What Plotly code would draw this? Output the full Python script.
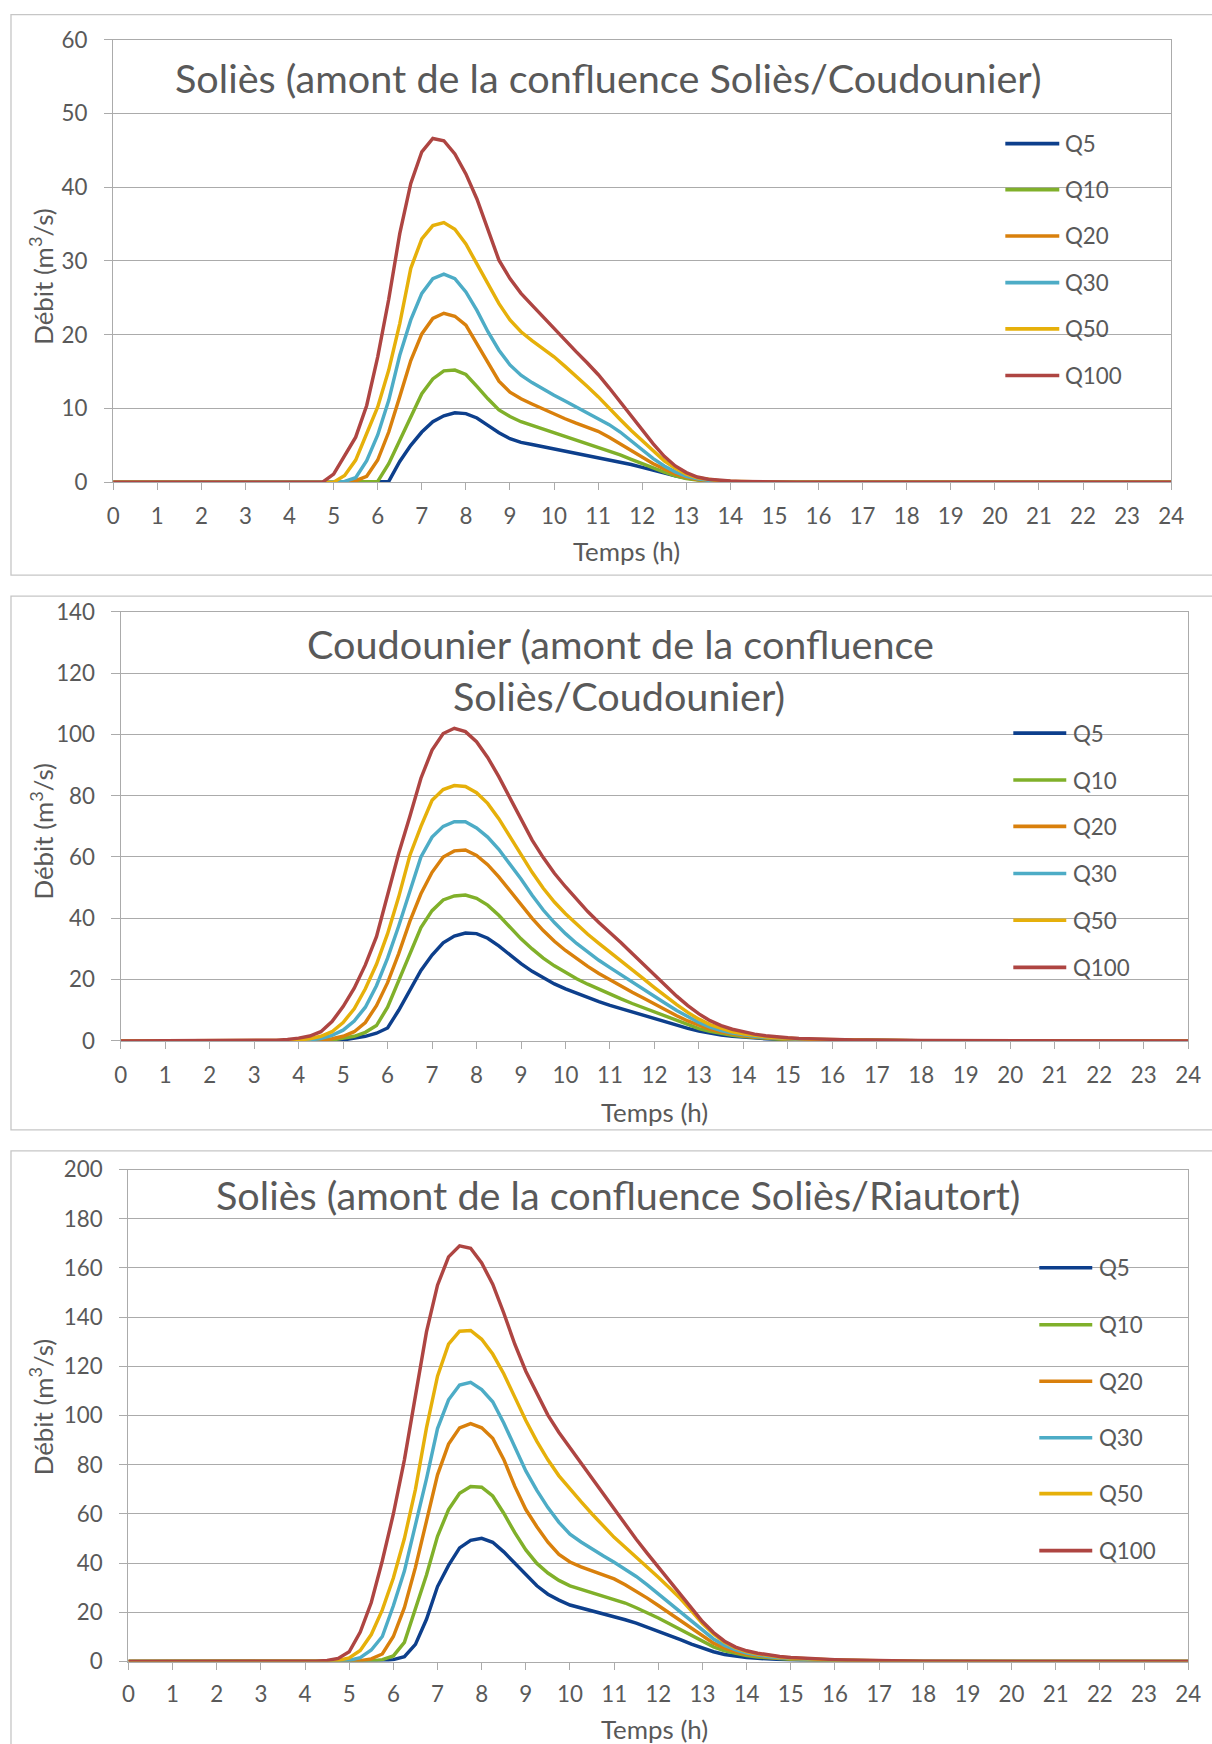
import plotly.graph_objects as go

# ---------------- data ----------------
TIME_H = [0,
          3.0, 3.25, 3.5, 3.75, 4.0, 4.25, 4.5, 4.75, 5.0, 5.25, 5.5, 5.75,
          6.0, 6.25, 6.5, 6.75, 7.0, 7.25, 7.5, 7.75, 8.0, 8.25, 8.5, 8.75,
          9.0, 9.25, 9.5, 9.75, 10.0, 10.25, 10.5, 10.75, 11.0, 11.25, 11.5, 11.75,
          12.0, 12.25, 12.5, 12.75, 13.0, 13.25, 13.5, 13.75, 14.0, 14.25, 14.5, 14.75,
          15.0, 15.25, 15.5, 15.75, 16.0, 16.25, 16.5, 16.75, 17.0, 17.25, 17.5, 17.75,
          18.0, 24]

SERIES_NAMES = ["Q5", "Q10", "Q20", "Q30", "Q50", "Q100"]
X_TICK_LABELS = [0, 1, 2, 3, 4, 5, 6, 7, 8, 9, 10, 11, 12, 13, 14, 15, 16, 17, 18, 19, 20, 21, 22, 23, 24]
X_TITLE = "Temps (h)"
Y_TITLE = "Débit (m<sup>3</sup>/s)"
PANEL_TITLES = [
    ["Soliès (amont de la confluence Soliès/Coudounier)"],
    ["Coudounier (amont de la confluence", "Soliès/Coudounier)"],
    ["Soliès (amont de la confluence Soliès/Riautort)"],
]
Y_MAX = [60, 140, 200]
Y_STEP = [10, 20, 20]

# Panel 1 : Soliès amont confluence Soliès/Coudounier
P1_Q5 = [0,
         0, 0, 0, 0,  0, 0, 0, 0,  0, 0, 0, 0,
         0, 0.1, 2.8, 5.0,  6.8, 8.2, 9.0, 9.4,  9.3, 8.7, 7.7, 6.7,
         5.9, 5.4, 5.1, 4.8,  4.5, 4.2, 3.9, 3.65,  3.4, 3.1, 2.75, 2.4,
         2.0, 1.6, 1.2, 0.85,  0.55, 0.32, 0.18, 0.1,  0.05, 0.02, 0, 0,
         0, 0, 0, 0,  0, 0, 0, 0,  0, 0, 0, 0,  0, 0]
P1_Q10 = [0,
          0, 0, 0, 0,  0, 0, 0, 0,  0, 0, 0, 0,
          0.1, 2.5, 5.7, 8.9,  12.0, 14.0, 15.1, 15.2,  14.6, 13.0, 11.3, 9.8,
          8.9, 8.2, 7.7, 7.2,  6.7, 6.2, 5.7, 5.2,  4.8, 4.3, 3.7, 3.1,
          2.5, 1.9, 1.35, 0.85,  0.5, 0.28, 0.15, 0.08,  0.04, 0.02, 0, 0,
          0, 0, 0, 0,  0, 0, 0, 0,  0, 0, 0, 0,  0, 0]
P1_Q20 = [0,
          0, 0, 0, 0,  0, 0, 0, 0,  0, 0, 0.2, 0.8,
          3.0, 6.8, 11.6, 16.5,  20.1, 22.2, 22.9, 22.5,  21.3, 18.8, 16.1, 13.7,
          12.2, 11.3, 10.6, 9.9,  9.2, 8.6, 8.0, 7.4,  6.9, 6.1, 5.2, 4.3,
          3.4, 2.5, 1.8, 1.1,  0.65, 0.35, 0.2, 0.1,  0.05, 0.02, 0, 0,
          0, 0, 0, 0,  0, 0, 0, 0,  0, 0, 0, 0,  0, 0]
P1_Q30 = [0,
          0, 0, 0, 0,  0, 0, 0, 0,  0, 0.1, 0.6, 2.9,
          6.4, 11.1, 17.2, 22.0,  25.6, 27.6, 28.2, 27.6,  25.8, 23.3, 20.4, 17.9,
          15.9, 14.5, 13.5, 12.6,  11.8, 11.0, 10.2, 9.4,  8.7, 7.8, 6.8, 5.6,
          4.3, 3.2, 2.2, 1.4,  0.8, 0.45, 0.25, 0.14,  0.08, 0.04, 0.02, 0,
          0, 0, 0, 0,  0, 0, 0, 0,  0, 0, 0, 0,  0, 0]
P1_Q50 = [0,
          0, 0, 0, 0,  0, 0, 0, 0,  0, 0.9, 3.0, 6.6,
          10.2, 15.2, 21.5, 29.0,  33.0, 34.8, 35.2, 34.3,  32.3, 29.6, 26.9, 24.2,
          22.0, 20.4, 19.2, 18.1,  17.0, 15.7, 14.4, 13.0,  11.6, 10.0, 8.5, 7.0,
          5.6, 4.2, 2.9, 1.9,  1.1, 0.6, 0.35, 0.2,  0.12, 0.07, 0.04, 0.02,
          0, 0, 0, 0,  0, 0, 0, 0,  0, 0, 0, 0,  0, 0]
P1_Q100 = [0,
           0, 0, 0, 0,  0, 0, 0, 0,  1.1, 3.5, 6.1, 10.4,
           17.0, 24.8, 33.7, 40.5,  44.8, 46.6, 46.3, 44.5,  41.8, 38.4, 34.1, 30.1,
           27.6, 25.6, 24.0, 22.4,  20.8, 19.2, 17.7, 16.2,  14.6, 12.8, 10.9, 9.0,
           7.1, 5.2, 3.5, 2.2,  1.3, 0.7, 0.4, 0.25,  0.15, 0.1, 0.06, 0.03,
           0.01, 0, 0, 0,  0, 0, 0, 0,  0, 0, 0, 0,  0, 0]

# Panel 2 : Coudounier amont confluence Soliès/Coudounier
P2_Q5 = [0,
         0, 0, 0, 0,  0, 0, 0.03, 0.1,  0.3, 0.8, 1.5, 2.5,
         4.2, 10.0, 16.5, 23.0,  28.0, 32.0, 34.2, 35.2,  35.0, 33.5, 31.0, 28.0,
         25.2, 22.7, 20.5, 18.6,  17.0, 15.5, 14.1, 12.8,  11.6, 10.5, 9.4, 8.3,
         7.2, 6.1, 5.1, 4.1,  3.2, 2.5, 1.9, 1.5,  1.15, 0.9, 0.7, 0.55,
         0.42, 0.33, 0.26, 0.21,  0.17, 0.14, 0.11, 0.09,  0.07, 0.05, 0.04, 0.03,  0.02, 0]
P2_Q10 = [0,
          0, 0, 0, 0,  0, 0.03, 0.1, 0.3,  0.8, 1.5, 2.8, 5.0,
          11.0, 19.5, 28.0, 37.0,  42.5, 46.0, 47.3, 47.6,  46.5, 44.3, 41.0, 37.0,
          33.3, 30.0, 27.0, 24.5,  22.3, 20.3, 18.5, 16.8,  15.2, 13.7, 12.2, 10.8,
          9.3, 7.9, 6.5, 5.2,  4.0, 3.1, 2.4, 1.8,  1.4, 1.1, 0.85, 0.65,
          0.5, 0.4, 0.32, 0.26,  0.21, 0.17, 0.14, 0.11,  0.09, 0.07, 0.05, 0.04,  0.03, 0]
P2_Q20 = [0,
          0, 0, 0, 0.03,  0.05, 0.1, 0.3, 0.7,  1.5, 3.0, 6.0, 11.5,
          19.0, 28.5, 39.0, 48.0,  55.0, 60.0, 62.0, 62.3,  60.5, 57.5, 53.5, 49.0,
          44.5, 40.0, 36.0, 32.5,  29.5, 26.8, 24.3, 22.0,  19.9, 17.9, 15.9, 14.0,
          12.0, 10.1, 8.2, 6.5,  5.0, 3.8, 2.9, 2.2,  1.7, 1.3, 1.0, 0.78,
          0.6, 0.48, 0.38, 0.31,  0.25, 0.2, 0.16, 0.13,  0.1, 0.08, 0.06, 0.05,  0.04, 0]
P2_Q30 = [0,
          0, 0, 0.03, 0.06,  0.1, 0.3, 0.8, 1.8,  3.5, 6.5, 11.0, 18.0,
          27.0, 37.5, 49.0, 60.0,  66.5, 70.0, 71.5, 71.5,  69.5, 66.5, 62.5, 57.8,
          52.8, 47.5, 42.7, 38.6,  35.0, 31.8, 29.0, 26.3,  23.9, 21.5, 19.2, 16.9,
          14.5, 12.2, 9.9, 7.8,  6.0, 4.5, 3.4, 2.6,  2.0, 1.5, 1.15, 0.9,
          0.7, 0.55, 0.44, 0.36,  0.29, 0.24, 0.2, 0.16,  0.13, 0.1, 0.08, 0.06,  0.05, 0]
P2_Q50 = [0,
          0, 0.05, 0.1, 0.2,  0.3, 0.7, 1.5, 3.0,  6.0, 10.5, 17.0, 25.0,
          35.0, 47.0, 60.5, 70.0,  78.5, 82.0, 83.3, 83.0,  81.0, 77.5, 72.5, 66.5,
          60.5, 55.0, 49.8, 45.3,  41.5, 38.0, 34.8, 31.8,  29.0, 26.1, 23.2, 20.3,
          17.4, 14.5, 11.8, 9.3,  7.1, 5.3, 4.0, 3.0,  2.3, 1.75, 1.35, 1.05,
          0.8, 0.65, 0.52, 0.43,  0.35, 0.29, 0.24, 0.2,  0.16, 0.13, 0.1, 0.08,  0.06, 0]
P2_Q100 = [0,
           0.05, 0.1, 0.25, 0.5,  0.9, 1.6, 3.0, 6.3,  11.2, 17.2, 24.8, 34.0,
           47.1, 61.2, 73.2, 85.7,  94.9, 100.3, 102.0, 100.9,  97.6, 92.5, 86.2, 79.1,
           72.1, 65.5, 59.8, 54.7,  50.3, 46.2, 42.2, 38.6,  35.4, 32.0, 28.5, 25.0,
           21.5, 18.0, 14.6, 11.5,  8.8, 6.6, 5.0, 3.8,  2.9, 2.2, 1.7, 1.3,
           1.0, 0.8, 0.65, 0.55,  0.45, 0.38, 0.32, 0.27,  0.22, 0.18, 0.15, 0.12,  0.1, 0]

# Panel 3 : Soliès amont confluence Soliès/Riautort
P3_Q5 = [0,
         0, 0, 0, 0,  0, 0, 0, 0,  0, 0, 0, 0.2,
         0.8, 2.0, 7.0, 17.2,  30.5, 39.1, 46.2, 49.3,  50.1, 48.5, 44.6, 39.9,
         35.2, 30.8, 27.4, 25.0,  23.0, 21.8, 20.6, 19.6,  18.4, 17.0, 15.6, 14.0,
         12.3, 10.6, 8.9, 7.1,  5.4, 4.0, 2.9, 2.2,  1.7, 1.3, 1.0, 0.8,
         0.65, 0.52, 0.42, 0.34,  0.27, 0.22, 0.17, 0.13,  0.1, 0.08, 0.06, 0.04,  0.03, 0]
P3_Q10 = [0,
          0, 0, 0, 0,  0, 0, 0, 0,  0, 0.1, 0.3, 0.8,
          2.3, 7.8, 21.9, 35.2,  50.9, 61.8, 68.4, 71.2,  70.9, 67.3, 60.3, 52.4,
          45.4, 39.9, 36.0, 33.0,  30.8, 29.4, 28.1, 26.9,  25.5, 23.8, 21.9, 19.9,
          17.7, 15.4, 13.0, 10.5,  8.1, 6.0, 4.4, 3.3,  2.5, 1.9, 1.5, 1.2,
          0.95, 0.76, 0.6, 0.48,  0.38, 0.3, 0.24, 0.19,  0.15, 0.11, 0.08, 0.06,  0.04, 0]
P3_Q20 = [0,
          0, 0, 0, 0,  0, 0, 0, 0,  0.1, 0.4, 1.1, 3.1,
          10.2, 21.9, 38.3, 57.1,  75.9, 88.4, 95.0, 96.7,  95.0, 90.8, 82.2, 71.2,
          61.8, 54.8, 48.5, 43.6,  40.5, 38.5, 36.8, 35.3,  33.6, 31.2, 28.6, 25.8,
          22.8, 19.7, 16.5, 13.3,  10.2, 7.5, 5.5, 4.0,  3.0, 2.3, 1.8, 1.4,
          1.1, 0.88, 0.7, 0.57,  0.46, 0.37, 0.3, 0.24,  0.19, 0.15, 0.11, 0.08,  0.06, 0]
P3_Q30 = [0,
          0, 0, 0, 0,  0, 0, 0.05, 0.2,  0.5, 1.6, 4.7, 10.2,
          22.7, 36.8, 55.6, 74.3,  94.7, 106.4, 112.4, 113.5,  110.6, 105.6, 97.0, 86.9,
          77.5, 69.6, 62.6, 56.6,  51.8, 48.6, 45.7, 43.0,  40.4, 37.6, 34.6, 31.2,
          27.5, 23.8, 20.0, 16.2,  12.5, 9.2, 6.6, 4.8,  3.5, 2.6, 2.0, 1.6,
          1.25, 1.0, 0.82, 0.67,  0.55, 0.45, 0.37, 0.3,  0.24, 0.19, 0.14, 0.1,  0.07, 0]
P3_Q50 = [0,
          0, 0, 0, 0,  0, 0.05, 0.2, 0.5,  1.5, 4.5, 11.0, 21.0,
          34.0, 50.0, 70.0, 95.0,  116.0, 129.0, 134.3, 134.6,  131.0, 125.0, 117.0, 107.5,
          98.0, 89.5, 82.0, 75.5,  70.0, 65.0, 60.0, 55.0,  50.5, 46.5, 42.5, 38.5,
          34.3, 30.0, 25.6, 20.6,  15.5, 11.2, 7.9, 5.6,  4.1, 3.1, 2.4, 1.9,
          1.5, 1.2, 1.0, 0.82,  0.68, 0.56, 0.46, 0.37,  0.29, 0.22, 0.16, 0.12,  0.08, 0]
P3_Q100 = [0,
           0, 0, 0, 0,  0.1, 0.2, 0.5, 1.3,  4.0, 12.0, 24.0, 41.0,
           60.0, 82.0, 108.0, 134.0,  153.0, 164.5, 169.0, 168.0,  162.0, 153.4, 141.7, 129.0,
           118.0, 108.9, 100.2, 93.1,  86.9, 80.6, 74.3, 67.8,  61.8, 55.7, 49.7, 44.0,
           38.5, 32.8, 27.3, 21.7,  16.3, 11.8, 8.3, 5.9,  4.4, 3.4, 2.7, 2.1,
           1.7, 1.4, 1.15, 0.95,  0.8, 0.67, 0.55, 0.45,  0.35, 0.28, 0.2, 0.15,  0.1, 0]

PANEL_SERIES = [
    [P1_Q5, P1_Q10, P1_Q20, P1_Q30, P1_Q50, P1_Q100],
    [P2_Q5, P2_Q10, P2_Q20, P2_Q30, P2_Q50, P2_Q100],
    [P3_Q5, P3_Q10, P3_Q20, P3_Q30, P3_Q50, P3_Q100],
]

# ---------------- style / layout ----------------
COLORS = ["#0D3F8C", "#80B02A", "#D9800C", "#4DACC6", "#E6B00A", "#AE4542"]
FONT = "Lato, 'Open Sans', sans-serif"
TEXT_COLOR = "#595959"
GRID_COLOR = "#ABABAB"
BORDER_COLOR = "#C6C6C6"

W, H = 1212, 1744
# the captured picture maps page pixels as: shot = S * page + O  (measured)
S = 0.985
OX, OY = 5.0, 13.6

TITLE_SIZE = 39.0 / S
TICK_SIZE = 22.0 / S
LABEL_SIZE = 25.5 / S
LEGEND_SIZE = 22.0 / S
TRACE_W = 3.4 / S

# all positions below are target picture pixels
GEOM = [
    dict(plot=(112.3, 1171.0, 39.3, 482.0), box=(10, 11.7, 1240, 575),
         title=[(607.5, 77.0)], ylab=(40.6, 276.0), xlab=(625.5, 551.0),
         leg_line=(1005, 1059), leg_text=1063, xstand=7,
         leg_y=[143.3, 189.3, 235.7, 282.3, 328.7, 375.3]),
    dict(plot=(119.8, 1188.0, 611.7, 1041.0), box=(10, 596, 1240, 1130),
         title=[(620.0, 643.4), (618.0, 695.9)], ylab=(40.6, 831.0), xlab=(653.5, 1112.0),
         leg_line=(1013, 1066), leg_text=1071, xstand=7,
         leg_y=[733.0, 780.0, 826.4, 873.5, 920.3, 967.5]),
    dict(plot=(127.5, 1188.0, 1169.7, 1662.0), box=(10, 1151, 1240, 1790),
         title=[(617.0, 1195.0)], ylab=(40.6, 1407.0), xlab=(654.0, 1729.0),
         leg_line=(1039, 1092), leg_text=1097, xstand=5,
         leg_y=[1268.0, 1325.0, 1381.5, 1438.0, 1494.0, 1551.0]),
]


def fx(t):
    return ((t - OX) / S) / W


def fy(t):
    page = max((t - OY) / S, 0.7)
    return 1 - page / H


fig = go.Figure()
annotations = []
shapes = []
layout_axes = {}

for p, (geom, series_list) in enumerate(zip(GEOM, PANEL_SERIES)):
    idx = "" if p == 0 else str(p + 1)
    xa, ya = "x" + idx, "y" + idx
    for name, vals, col in zip(SERIES_NAMES, series_list, COLORS):
        fig.add_trace(go.Scatter(
            x=TIME_H, y=vals, name=name, mode="lines",
            line=dict(color=col, width=TRACE_W), xaxis=xa, yaxis=ya,
            showlegend=False, hoverinfo="x+y+name"))
    x0, x1, ytop, ybot = geom["plot"]
    common = dict(showline=True, linecolor=GRID_COLOR, linewidth=1.3, mirror=True,
                  ticks="outside", tickcolor=GRID_COLOR, tickwidth=1.3,
                  zeroline=False, fixedrange=True,
                  tickfont=dict(family=FONT, size=TICK_SIZE, color=TEXT_COLOR))
    layout_axes["xaxis" + idx] = dict(
        domain=[fx(x0), fx(x1)], anchor=ya, range=[0, 24],
        tickmode="array", tickvals=X_TICK_LABELS, ticktext=[str(v) for v in X_TICK_LABELS],
        ticklen=7.1, showgrid=False, ticklabelstandoff=geom["xstand"], **common)
    layout_axes["yaxis" + idx] = dict(
        domain=[fy(ybot), fy(ytop)], anchor=xa, range=[0, Y_MAX[p]],
        tick0=0, dtick=Y_STEP[p], ticklen=8.1, showgrid=True,
        gridcolor=GRID_COLOR, gridwidth=1.3, ticklabelstandoff=12, **common)

    # panel border
    bx0, by0, bx1, by1 = geom["box"]
    shapes.append(dict(type="rect", xref="paper", yref="paper",
                       x0=fx(bx0), x1=fx(bx1), y0=fy(by1), y1=fy(by0),
                       line=dict(color=BORDER_COLOR, width=1.3), layer="below"))
    # title
    for line_text, (tx, ty) in zip(PANEL_TITLES[p], geom["title"]):
        annotations.append(dict(text=line_text, x=fx(tx), y=fy(ty), xref="paper", yref="paper",
                                xanchor="center", yanchor="middle", showarrow=False,
                                font=dict(family=FONT, size=TITLE_SIZE, color=TEXT_COLOR)))
    # axis titles
    annotations.append(dict(text=Y_TITLE, x=fx(geom["ylab"][0]), y=fy(geom["ylab"][1]),
                            xref="paper", yref="paper", textangle=-90, showarrow=False,
                            xanchor="center", yanchor="middle",
                            font=dict(family=FONT, size=LABEL_SIZE, color=TEXT_COLOR)))
    annotations.append(dict(text=X_TITLE, x=fx(geom["xlab"][0]), y=fy(geom["xlab"][1]),
                            xref="paper", yref="paper", showarrow=False,
                            xanchor="center", yanchor="middle",
                            font=dict(family=FONT, size=LABEL_SIZE, color=TEXT_COLOR)))
    # legend
    lx0, lx1 = geom["leg_line"]
    for name, col, ly in zip(SERIES_NAMES, COLORS, geom["leg_y"]):
        shapes.append(dict(type="line", xref="paper", yref="paper",
                           x0=fx(lx0), x1=fx(lx1), y0=fy(ly), y1=fy(ly),
                           line=dict(color=col, width=3.6 / S)))
        annotations.append(dict(text=name, x=fx(geom["leg_text"]), y=fy(ly),
                                xref="paper", yref="paper", showarrow=False,
                                xanchor="left", yanchor="middle",
                                font=dict(family=FONT, size=LEGEND_SIZE, color=TEXT_COLOR)))

fig.update_layout(
    width=W, height=H, autosize=False,
    margin=dict(l=0, r=0, t=0, b=0, pad=0),
    paper_bgcolor="white", plot_bgcolor="white",
    showlegend=False,
    annotations=annotations, shapes=shapes,
    font=dict(family=FONT, color=TEXT_COLOR),
    **layout_axes,
)

fig.write_html("out.html", config={"displayModeBar": False},
               post_script="document.body.style.margin='0';document.body.style.overflow='hidden';")
